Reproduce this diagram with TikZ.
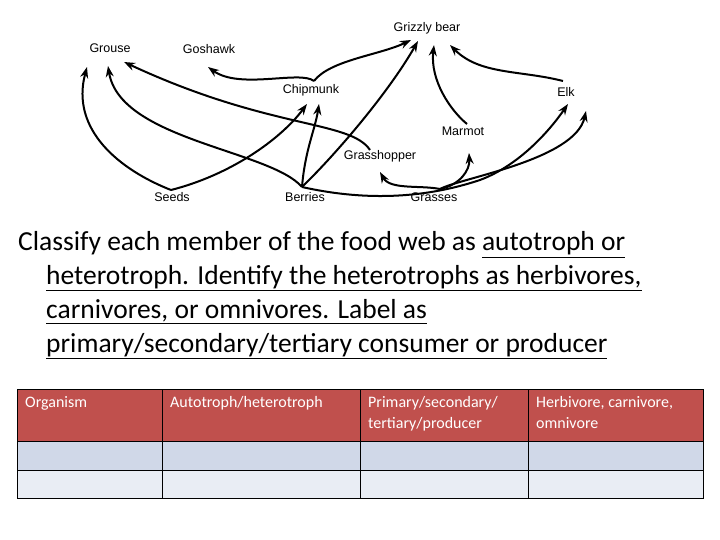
\documentclass[tikz,border=0pt]{standalone}
\usepackage{fontspec}
\setmainfont{Carlito}
\newfontfamily\arial{Liberation Sans}
\usetikzlibrary{arrows.meta}
\definecolor{hdr}{HTML}{C0504D}
\definecolor{rowa}{HTML}{D0D8E8}
\definecolor{rowb}{HTML}{E9EDF4}
\newcommand{\ul}[1]{\underline{#1}}
\begin{document}
\begin{tikzpicture}[x=1pt,y=-1pt,
  lab/.style={font=\arial\fontsize{12.5}{14}\selectfont,inner sep=1pt},
  ar/.style={line width=2pt,-{Stealth[length=11pt,width=8pt]}},
  txt/.style={font=\fontsize{27.5}{30}\selectfont,anchor=base west,inner sep=0pt},
  hd/.style={font=\fontsize{16}{21}\selectfont,text=white,anchor=north west,align=left,inner sep=0pt}]
\useasboundingbox (0,0) rectangle (720,540);
\node[lab] (grouse) at (110,48) {Grouse};
\node[lab] (goshawk) at (209,49) {Goshawk};
\node[lab] (grizzly) at (427,28) {Grizzly bear};
\node[lab] (chip) at (311,90) {Chipmunk};
\node[lab] (elk) at (566,92) {Elk};
\node[lab] (marmot) at (463,131) {Marmot};
\node[lab] (hopper) at (380,156) {Grasshopper};
\node[lab] (seeds) at (172,197) {Seeds};
\node[lab] (berries) at (305,197) {Berries};
\node[lab] (grasses) at (434,197) {Grasses};
\coordinate (s0) at (171,190);
\coordinate (b0) at (302,187);
\coordinate (g0) at (440,189);
\coordinate (c0) at (314,81);
\draw[ar] (s0) .. controls (120,170) and (70,130) .. (87,67);
\draw[ar] (s0) .. controls (230,175) and (280,140) .. (307,104);
\draw[ar] (b0) .. controls (270,150) and (120,140) .. (108,66);
\draw[ar] (b0) .. controls (305,150) and (315,130) .. (319,104);
\draw[ar] (b0) .. controls (340,150) and (390,90) .. (418,41);
\draw[ar] (b0) .. controls (360,200) and (420,200) .. (480,180) .. controls (520,165) and (550,130) .. (568,104);
\draw[ar] (g0) .. controls (460,178) and (575,160) .. (586,111);
\draw[ar] (370,150) .. controls (350,120) and (270,130) .. (124,62);
\draw[ar] (c0) .. controls (300,70) and (240,90) .. (208,67);
\draw[ar] (c0) .. controls (330,60) and (380,55) .. (411,40);
\draw[ar] (467,124) .. controls (450,110) and (430,80) .. (434,45);
\draw[ar] (563,81) .. controls (520,70) and (480,75) .. (450,45);
\draw[ar] (g0) .. controls (460,185) and (470,170) .. (469,153);
\draw[ar] (g0) .. controls (420,185) and (390,190) .. (380,172);
\node[txt] (l1) at (18,251) {Classify each member of the food web as \ul{autotroph or}};
\node[txt] (l2) at (46,284) {\ul{heterotroph. Identify the heterotrophs as herbivores,}};
\node[txt] (l3) at (46,318) {\ul{carnivores, or omnivores. Label as}};
\node[txt] (l4) at (46,352) {\ul{primary/secondary/tertiary consumer or producer}};
\fill[hdr] (17,389) rectangle (703,441);
\fill[rowa] (17,441) rectangle (703,470);
\fill[rowb] (17,470) rectangle (703,498);
\draw[black,line width=1pt] (17,389) rectangle (703,498);
\foreach \y in {441,470} \draw[line width=1pt] (17,\y) -- (703,\y);
\foreach \x in {162,360,528} \draw[line width=1pt] (\x,389) -- (\x,498);
\node[hd] (h1) at (25,396) {Organism};
\node[hd] (h2) at (170,396) {Autotroph/heterotroph};
\node[hd] (h3) at (368,396) {Primary/secondary/\\tertiary/producer};
\node[hd] (h4) at (536,396) {Herbivore, carnivore,\\omnivore};
\end{tikzpicture}
\end{document}
